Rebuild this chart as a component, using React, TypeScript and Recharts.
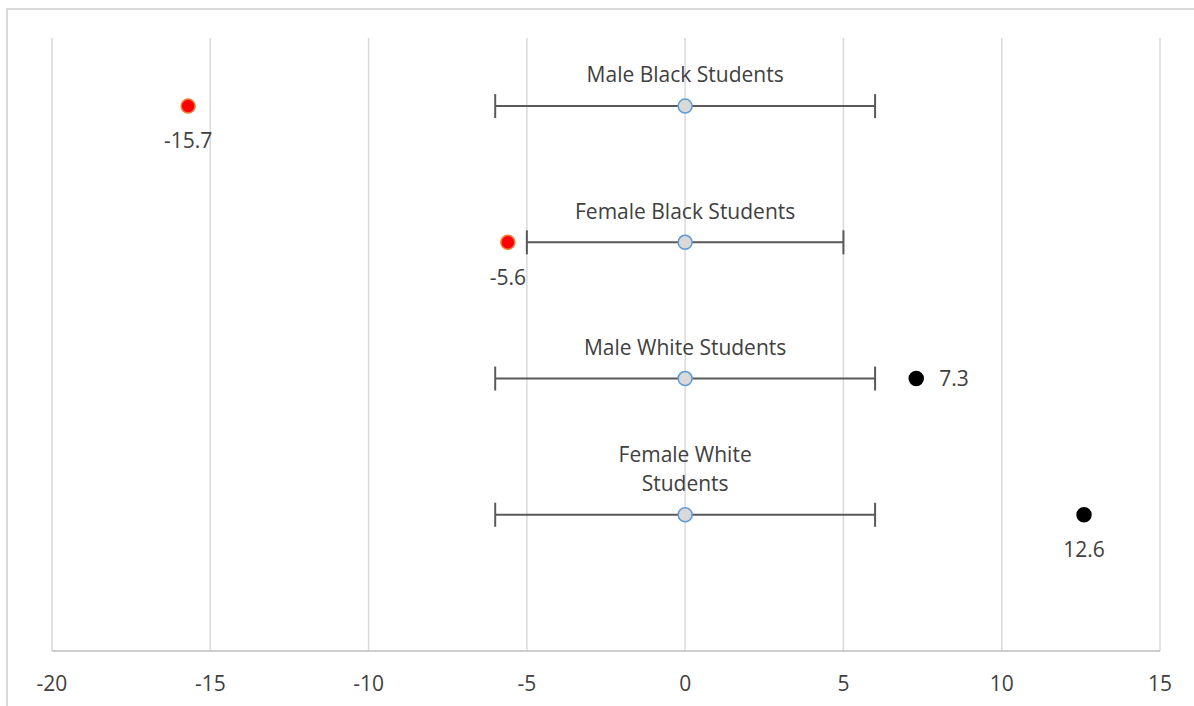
import { ScatterChart, Scatter, XAxis, YAxis, CartesianGrid, ErrorBar, LabelList } from "recharts";

const groups = ["Male Black Students", "Female Black Students", "Male White Students", "Female White Students"];
const rowPositions = [4, 3, 2, 1];
const centerValues = [0, 0, 0, 0];
const errorMargins = [6, 5, 6, 6];
const observedValues = [-15.7, -5.6, 7.3, 12.6];
const xTicks = [-20, -15, -10, -5, 0, 5, 10, 15];

const centerData = groups.map((g, i) => ({ x: centerValues[i], y: rowPositions[i], err: errorMargins[i], name: g }));
const redData = observedValues.slice(0, 2).map((v, i) => ({ x: v, y: rowPositions[i] }));
const blackData = observedValues.slice(2).map((v, i) => ({ x: v, y: rowPositions[i + 2] }));

const FONT = "'Open Sans', sans-serif";
const TXT = "#404040";
const FS = 21;

function NameLabel(props: any) {
  const { x, y, width, height, value } = props;
  const cx = x + width / 2;
  const cy = y + height / 2;
  const name = String(value);
  // the last group's label wraps in the source
  const lines = name === groups[3] ? ["Female White", "Students"] : [name];
  const start = cy - 31 - (lines.length - 1) * 29;
  return (
    <text x={cx} textAnchor="middle" fontSize={FS} fontFamily={FONT} fill={TXT}>
      {lines.map((l, i) => (
        <tspan key={i} x={cx} y={start + i * 29} dy="0.35em">{l}</tspan>
      ))}
    </text>
  );
}

function ValueLabel(props: any) {
  const { x, y, width, height, value } = props;
  const cx = x + width / 2;
  const cy = y + height / 2;
  const right = observedValues.indexOf(value) === 2;
  return (
    <text
      x={right ? cx + 23 : cx}
      y={right ? cy : cy + 35}
      dy="0.35em"
      textAnchor={right ? "start" : "middle"}
      fontSize={FS}
      fontFamily={FONT}
      fill={TXT}
    >
      {value}
    </text>
  );
}

function Dot(props: any) {
  const { cx, cy, fill, stroke } = props;
  return <circle cx={cx} cy={cy} r={7} fill={fill} stroke={stroke} strokeWidth={1.5} />;
}

function XTick(props: any) {
  const { x, y, payload } = props;
  return (
    <text x={x} y={y + 25} dy="0.35em" textAnchor="middle" fontSize={FS} fontFamily={FONT} fill={TXT}>
      {payload.value}
    </text>
  );
}

export default function App() {
  return (
    <div style={{ position: "absolute", left: 0, top: 0, width: 1194, height: 706, background: "#fff", overflow: "hidden" }}>
      <div style={{ position: "absolute", left: 6, top: 8, width: 1190, height: 720, border: "2px solid #d9d9d9", boxSizing: "border-box" }} />
      <ScatterChart width={1194} height={706} margin={{ top: 38, right: 34, bottom: 15, left: 52 }} style={{ position: "absolute", left: 0, top: 0 }}>
        <CartesianGrid horizontal={false} stroke="#d9d9d9" strokeWidth={1.5} />
        <XAxis
          type="number"
          dataKey="x"
          domain={[-20, 15]}
          ticks={xTicks}
          height={40}
          axisLine={{ stroke: "#bfbfbf", strokeWidth: 1.5 }}
          tickLine={false}
          tick={<XTick />}
          interval={0}
        />
        <YAxis type="number" dataKey="y" domain={[0, 4.5]} hide width={0} />
        <Scatter data={centerData} isAnimationActive={false} shape={<Dot fill="#d9d9d9" stroke="#5b9bd5" />}>
          <ErrorBar dataKey="err" direction="x" stroke="#595959" strokeWidth={2} width={12} />
          <LabelList dataKey="name" content={<NameLabel />} />
        </Scatter>
        <Scatter data={redData} isAnimationActive={false} shape={<Dot fill="#ff0000" stroke="#ed7d31" />}>
          <LabelList dataKey="x" content={<ValueLabel />} />
        </Scatter>
        <Scatter data={blackData} isAnimationActive={false} shape={<Dot fill="#000000" stroke="#000000" />}>
          <LabelList dataKey="x" content={<ValueLabel />} />
        </Scatter>
      </ScatterChart>
    </div>
  );
}
